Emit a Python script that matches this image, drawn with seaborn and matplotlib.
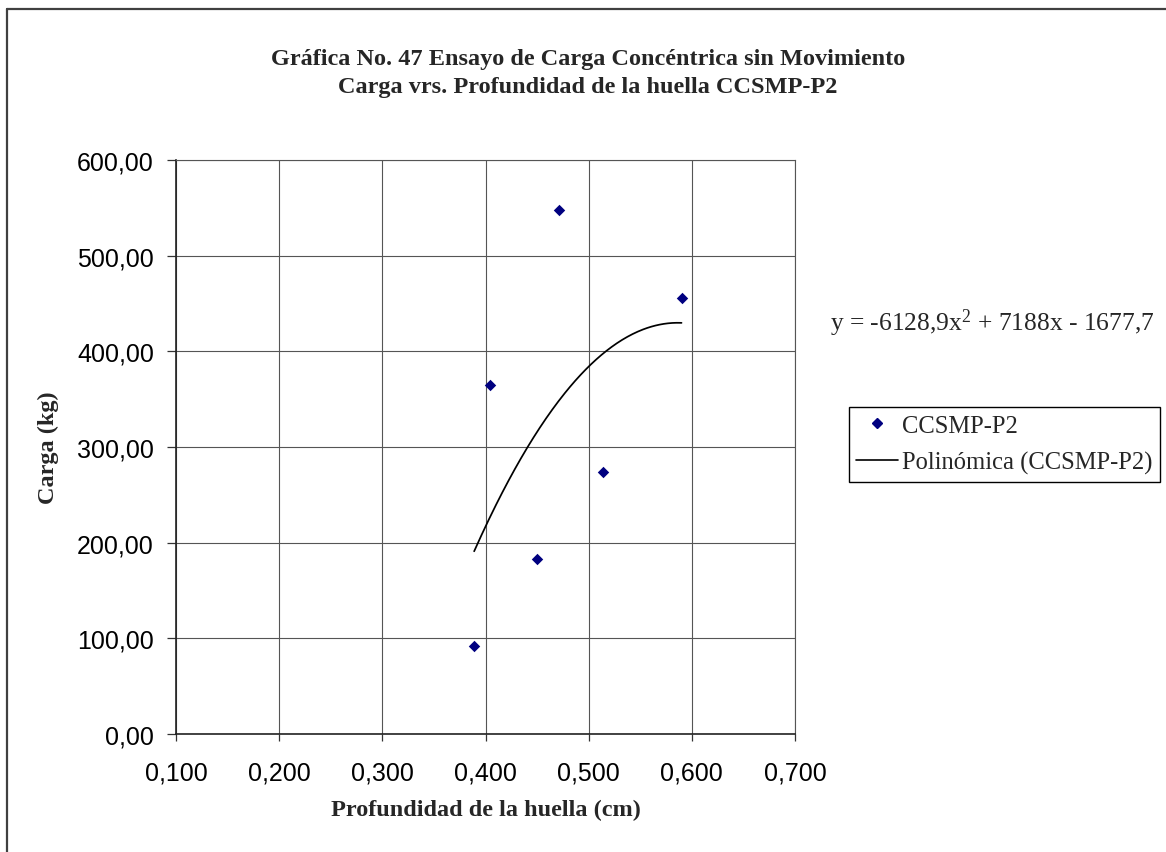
import numpy as np
import pandas as pd
import matplotlib
matplotlib.use("Agg")
import matplotlib.pyplot as plt
from matplotlib.lines import Line2D
from matplotlib.ticker import FuncFormatter
import seaborn as sns

# Measured points: indentation depth (cm) vs. load (kg)
profundidad = [0.389, 0.404, 0.450, 0.471, 0.514, 0.590]
carga = [92.0, 365.0, 183.0, 548.0, 274.0, 456.0]

# Second-order trendline coefficients (a*x^2 + b*x + c)
coef_a, coef_b, coef_c = -6128.9, 7188.0, -1677.7

x_ticks = [0.1, 0.2, 0.3, 0.4, 0.5, 0.6, 0.7]
y_ticks = [0, 100, 200, 300, 400, 500, 600]

serie = "CCSMP-P2"
tendencia = "Polinómica (CCSMP-P2)"
titulo_1 = "Gráfica No. 47 Ensayo de Carga Concéntrica sin Movimiento"
titulo_2 = "Carga vrs. Profundidad de la huella CCSMP-P2"
ecuacion = r"y = -6128,9x$^{2}$ + 7188x - 1677,7"

sns.set_style("white")
plt.rcParams["font.family"] = ["Liberation Sans", "DejaVu Sans"]
plt.rcParams["mathtext.fontset"] = "custom"
plt.rcParams["mathtext.rm"] = "Liberation Serif"
plt.rcParams["mathtext.it"] = "Liberation Serif"

W, H = 1166, 853
fig = plt.figure(figsize=(W / 100, H / 100), dpi=100)
fig.patch.set_facecolor("white")


def fx(px):
    return px / W


def fy(py):
    return 1 - py / H


left, right, top, bottom = 176, 795, 161, 735
ax = fig.add_axes([fx(left), fy(bottom), (right - left) / W, (bottom - top) / H])

df = pd.DataFrame({"x": profundidad, "y": carga})
xs = np.linspace(min(profundidad), max(profundidad), 200)
df_fit = pd.DataFrame({"x": xs, "y": coef_a * xs ** 2 + coef_b * xs + coef_c})

sns.lineplot(data=df_fit, x="x", y="y", ax=ax, color="black", linewidth=1.25,
             zorder=3, legend=False)
sns.scatterplot(data=df, x="x", y="y", ax=ax, marker="D", s=34,
                color="#000080", edgecolor="#000080", linewidth=0, zorder=4,
                legend=False)

ax.set_xlim(0.1, 0.7)
ax.set_ylim(0, 600)
ax.set_xticks(x_ticks)
ax.set_yticks(y_ticks)
ax.xaxis.set_major_formatter(FuncFormatter(lambda v, p: f"{v:.3f}".replace(".", ",")))
ax.yaxis.set_major_formatter(FuncFormatter(lambda v, p: f"{v:.2f}".replace(".", ",")))
ax.grid(True, color="#555555", linewidth=0.8)
ax.set_axisbelow(True)

for side in ["top", "right"]:
    ax.spines[side].set_color("#555555")
    ax.spines[side].set_linewidth(0.8)
for side in ["left", "bottom"]:
    ax.spines[side].set_color("#222222")
    ax.spines[side].set_linewidth(1.2)

ax.tick_params(axis="both", direction="out", width=0.9, color="#333333",
               labelsize=18, labelcolor="black", bottom=True, left=True)
ax.tick_params(axis="y", length=6.5, pad=9.4)
ax.tick_params(axis="x", length=5, pad=14)

ax.set_xlabel("Profundidad de la huella (cm)", family="Liberation Serif",
              fontweight="bold", fontsize=17.5)
ax.xaxis.label.set_verticalalignment("center")
ax.xaxis.set_label_coords(0.5, -(810 - bottom) / (bottom - top))

ax.set_ylabel("Carga (kg)", family="Liberation Serif", fontweight="bold",
              fontsize=17.5)
ax.yaxis.label.set_verticalalignment("center")
ax.yaxis.set_label_coords((48 - left) / (right - left), 0.5)

fig.text(fx(588), fy(93), titulo_2, ha="center", va="baseline",
         family="Liberation Serif", fontweight="bold", fontsize=17.5)
fig.text(fx(588), fy(65), titulo_1, ha="center", va="baseline",
         family="Liberation Serif", fontweight="bold", fontsize=17.5)

fig.text(fx(830), fy(323), ecuacion, ha="left", va="center",
         family="Liberation Serif", fontsize=18.4)

handles = [
    Line2D([], [], marker="D", color="#000080", linestyle="none", markersize=5.5),
    Line2D([], [], color="black", linewidth=1.2),
]
leg = fig.legend(handles, [serie, tendencia], loc="upper left",
                 bbox_to_anchor=(fx(849), fy(408)), borderaxespad=0,
                 frameon=True, fancybox=False, edgecolor="black", framealpha=1,
                 borderpad=0.3, handlelength=1.7, handletextpad=0.15,
                 labelspacing=0.6,
                 prop={"family": "Liberation Serif", "size": 17.7})
leg.get_frame().set_linewidth(1.0)

# Chart area frame (top and left edges)
fig.add_artist(Line2D([fx(7), 1.0], [fy(10), fy(10)], color="#404040", linewidth=1.6))
fig.add_artist(Line2D([fx(7), fx(7)], [fy(10), 0.0], color="#404040", linewidth=1.6))

fig.savefig("out.png", dpi=100, facecolor="white")
